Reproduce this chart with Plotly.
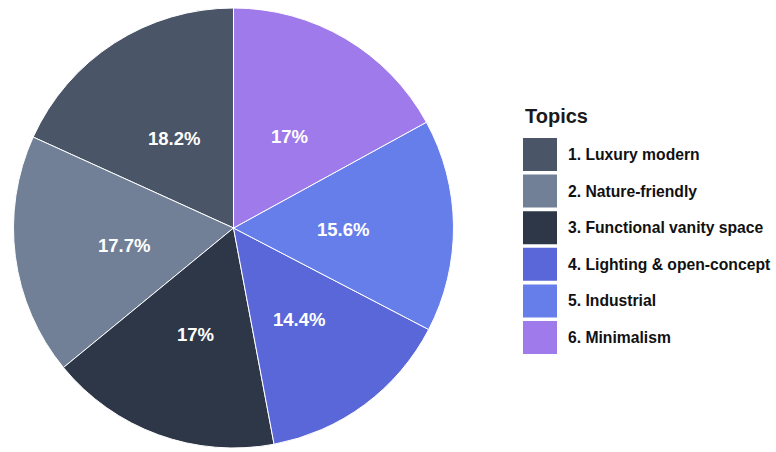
import math
import plotly.graph_objects as go

# Topic shares (percent), listed counter-clockwise from 12 o'clock
topics = [
    "1. Luxury modern",
    "2. Nature-friendly",
    "3. Functional vanity space",
    "4. Lighting & open-concept",
    "5. Industrial",
    "6. Minimalism",
]
shares = [18.2, 17.7, 17, 14.4, 15.6, 17]
colors = ["#4a5568", "#718096", "#2d3748", "#5a67d8", "#667eea", "#9f7aea"]

W, H = 776, 452
FONT = "Liberation Sans, Arial, sans-serif"

# pie placement in pixels (domain box)
px_left, px_right, px_top, px_bottom = 12, 455, 8, 448
cx, cy = (px_left + px_right) / 2, (px_top + px_bottom) / 2
radius = min(px_right - px_left, px_bottom - px_top) / 2

total = sum(shares)
# first slice begins at 12 o'clock and runs counter-clockwise
first_angle = 360 * shares[0] / total

fig = go.Figure(
    go.Pie(
        labels=topics,
        values=shares,
        text=[f"{v:g}%" for v in shares],
        textinfo="none",
        marker=dict(colors=colors, line=dict(color="white", width=1)),
        sort=False,
        direction="counterclockwise",
        rotation=-first_angle,
        showlegend=False,
        hoverinfo="label+text",
        domain=dict(x=[px_left / W, px_right / W], y=[1 - px_bottom / H, 1 - px_top / H]),
    )
)

annotations, shapes = [], []

# percentage labels at half the radius, on each slice's bisector
acc = 0.0
for v in shares:
    mid = (acc + v / 2) / total * 2 * math.pi
    acc += v
    lx = cx - 0.5 * radius * math.sin(mid)
    ly = cy - 0.5 * radius * math.cos(mid) + 3
    annotations.append(
        dict(
            x=lx / W, y=1 - ly / H, xref="paper", yref="paper",
            text=f"<b>{v:g}%</b>", showarrow=False,
            xanchor="center", yanchor="middle",
            font=dict(family=FONT, size=18.5, color="white"),
        )
    )

# Custom legend with large colour swatches
legend_x0, legend_top, sw_w, sw_h, pitch = 523, 138, 34, 33, 36.6
annotations.append(
    dict(
        x=legend_x0 / W, y=1 - 116 / H, xref="paper", yref="paper",
        text="<b>Topics</b>", showarrow=False, xanchor="left", yanchor="middle",
        font=dict(family=FONT, size=20, color="#1a1a1a"),
    )
)
for i, (name, col) in enumerate(zip(topics, colors)):
    top = legend_top + i * pitch
    shapes.append(
        dict(
            type="rect", xref="paper", yref="paper",
            x0=legend_x0 / W, x1=(legend_x0 + sw_w) / W,
            y0=1 - (top + sw_h) / H, y1=1 - top / H,
            fillcolor=col, line=dict(width=0),
        )
    )
    annotations.append(
        dict(
            x=566 / W, y=1 - (top + sw_h / 2) / H, xref="paper", yref="paper",
            text=f"<b>{name}</b>", showarrow=False, xanchor="left", yanchor="middle",
            font=dict(family=FONT, size=15.7, color="#111111"),
        )
    )

fig.update_layout(
    width=W,
    height=H,
    margin=dict(l=0, r=0, t=0, b=0),
    paper_bgcolor="white",
    plot_bgcolor="white",
    shapes=shapes,
    annotations=annotations,
)

fig.write_html("out.html")
